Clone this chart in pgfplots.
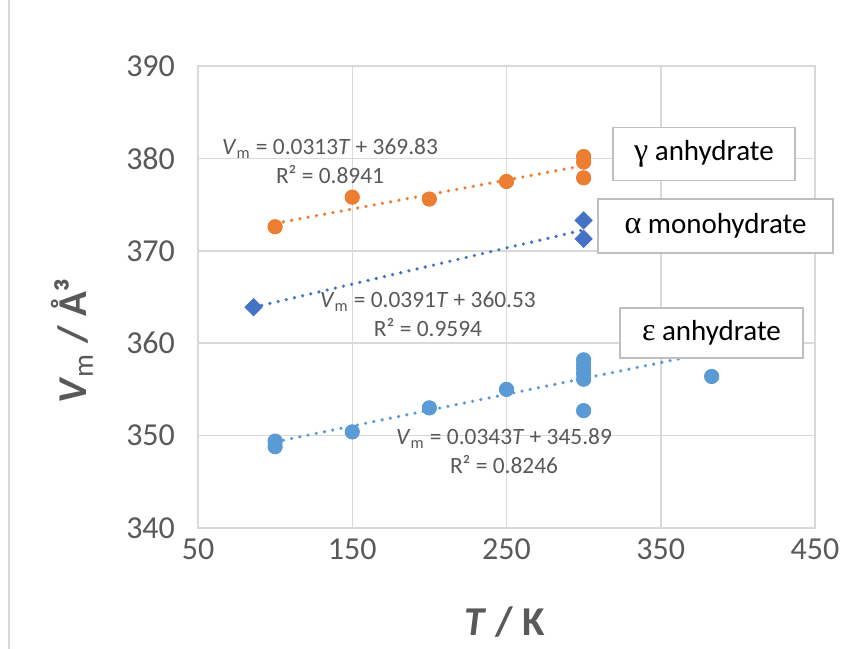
\documentclass[border=0pt]{standalone}
\usepackage{fontspec}
\setmainfont{Carlito}
\newfontfamily\grk{Liberation Serif}
\usepackage{pgfplots}
\pgfplotsset{compat=1.18}
\definecolor{gridc}{HTML}{D9D9D9}
\definecolor{boxc}{HTML}{BFBFBF}
\definecolor{txt}{HTML}{595959}
\definecolor{orng}{HTML}{ED7D31}
\definecolor{dblue}{HTML}{4472C4}
\definecolor{lblue}{HTML}{5B9BD5}
\begin{document}
\begin{tikzpicture}
\begin{axis}[name=ax,
  width=308.5pt, height=231pt, scale only axis,
  xmin=50, xmax=450, ymin=340, ymax=390,
  xtick={50,150,250,350,450}, ytick={340,350,360,370,380,390},
  grid=major, grid style={gridc, line width=0.75pt},
  axis line style={gridc, line width=0.75pt},
  major tick length=0pt,
  tick label style={font=\fontsize{16}{18}\selectfont, text=txt},
  /pgf/number format/assume math mode=true,
  /pgf/number format/1000 sep={},
  yticklabel style={xshift=-8pt},
  xticklabel style={yshift=-2pt},
  xlabel={\textbf{\textit{T} / K}},
  ylabel={\textbf{\textit{V}}\textsubscript{m}\textbf{ / Å³}},
  label style={font=\fontsize{20.5}{24}\selectfont, text=txt},
  xlabel style={at={(rel axis cs:0.497,-0.203)}, anchor=center},
  ylabel style={at={(rel axis cs:-0.204,0.405)}, anchor=center, rotate=0},
  clip=false,
]
% gamma anhydrate
\addplot[only marks, mark=*, mark size=3.6pt, orng] coordinates {
  (100,372.6) (150,375.8) (200,375.6) (250,377.5)
  (300,380.2) (300,379.6) (300,377.9)};
% alpha monohydrate
\addplot[only marks, mark=diamond*, mark size=4.3pt, mark options={xscale=1.33}, dblue] coordinates {
  (86,363.9) (300,373.3) (300,371.3)};
% epsilon anhydrate
\addplot[only marks, mark=*, mark size=3.6pt, lblue] coordinates {
  (100,349.4) (100,348.8) (150,350.4) (200,353.0) (250,355.0)
  (300,352.7) (300,358.2) (300,357.7) (300,357.2) (300,356.7) (300,356.1)
  (383,356.4)};
% trendlines
\addplot[orng, line width=1.8pt, line cap=round, dash pattern=on 0pt off 4.2pt] coordinates {(100,372.96) (300,379.22)};
\addplot[dblue, line width=1.8pt, line cap=round, dash pattern=on 0pt off 4.2pt] coordinates {(86,363.89) (300,372.26)};
\addplot[lblue, line width=1.8pt, line cap=round, dash pattern=on 0pt off 4.2pt] coordinates {(100,349.32) (383,359.03)};
% trendline labels
\node[align=center, text=txt, font=\fontsize{11.7}{14.5}\selectfont] at (axis cs:135.6,379.7)
  {\textit{V}\textsubscript{m} = 0.0313\textit{T} + 369.83\\R² = 0.8941};
\node[align=center, text=txt, font=\fontsize{11.7}{14.5}\selectfont] at (axis cs:199.1,363.1)
  {\textit{V}\textsubscript{m} = 0.0391\textit{T} + 360.53\\R² = 0.9594};
\node[align=center, text=txt, font=\fontsize{11.7}{14.5}\selectfont] at (axis cs:248.4,348.3)
  {\textit{V}\textsubscript{m} = 0.0343\textit{T} + 345.89\\R² = 0.8246};
% series label boxes
\node[draw=boxc, line width=0.75pt, fill=white, minimum width=91pt, minimum height=26.5pt,
  font=\fontsize{14.5}{17}\selectfont] at (axis cs:378.0,380.5) {{\grk\fontsize{16}{17}\selectfont γ} anhydrate};
\node[draw=boxc, line width=0.75pt, fill=white, minimum width=117.5pt, minimum height=27pt,
  font=\fontsize{14.5}{17}\selectfont] at (axis cs:385.5,372.7) {{\grk\fontsize{16}{17}\selectfont α} monohydrate};
\node[draw=boxc, line width=0.75pt, fill=white, minimum width=91.5pt, minimum height=25pt,
  font=\fontsize{14.5}{17}\selectfont] at (axis cs:382.9,361.1) {{\grk\fontsize{16}{17}\selectfont ε} anhydrate};
\end{axis}
\coordinate (BL) at ([shift={(-99pt,-60.5pt)}]ax.south west);
\coordinate (TR) at ([shift={(22.5pt,33pt)}]ax.north east);
\pgfresetboundingbox
\path[use as bounding box] (BL) rectangle (TR);
\draw[gridc, line width=0.75pt] ([xshift=4.5pt]BL) -- ([xshift=4.5pt]BL |- TR);
\end{tikzpicture}
\end{document}
